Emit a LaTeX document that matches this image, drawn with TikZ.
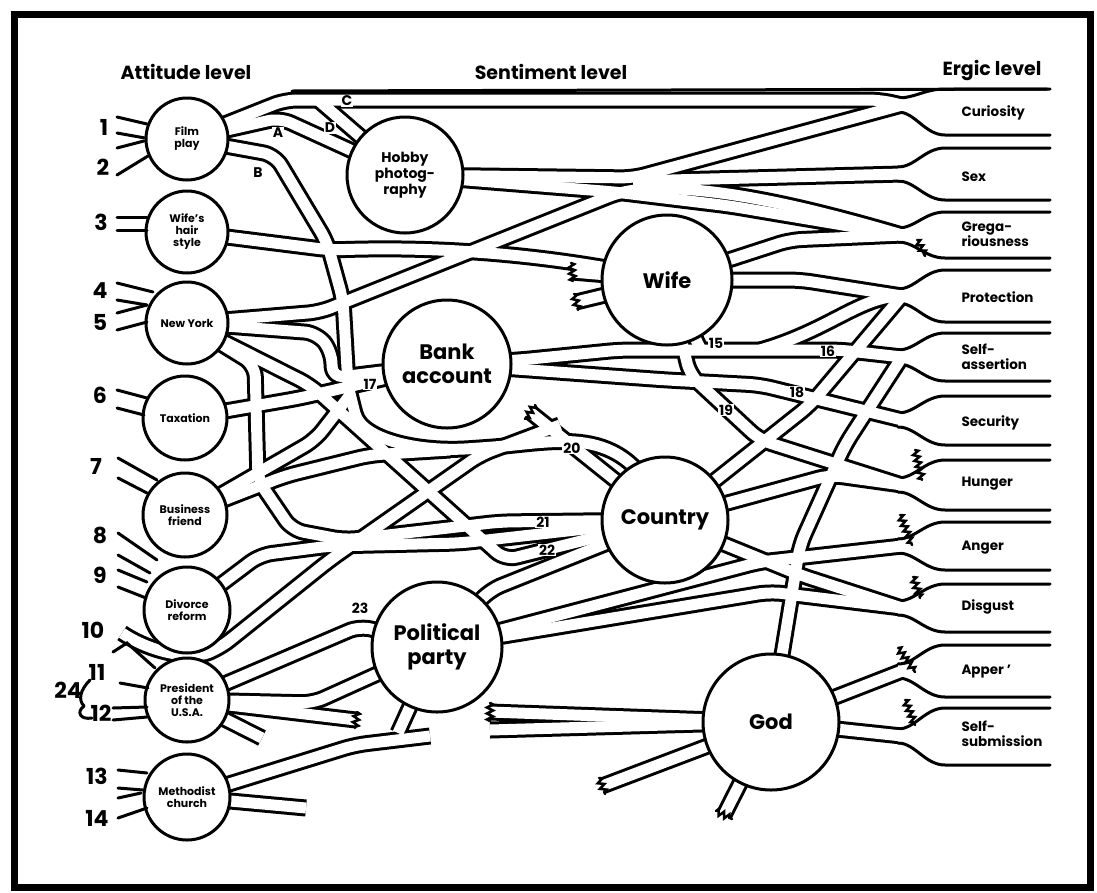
\documentclass[tikz,border=0pt]{standalone}
\usepackage{fontspec}
\setmainfont{Poppins}
\usetikzlibrary{decorations.pathmorphing}
\pgfdeclarelayer{bg}
\pgfsetlayers{bg,main}
\tikzset{
 chb/.style={line width=17pt, draw=black, line cap=butt, line join=round, rounded corners=12pt},
 chw/.style={line width=11pt, draw=white, line cap=butt, line join=round, rounded corners=12pt},
 edgeline/.style={line width=3pt, line cap=round},
 stub/.style={line width=3pt, line cap=round},
 circ/.style={circle, draw, line width=3pt, fill=white, inner sep=0pt, align=center, font=\bfseries},
 jag/.style={line width=2.5pt, line cap=round, decorate, decoration={zigzag, segment length=6pt, amplitude=3pt}},
 tag/.style={fill=white, inner sep=1pt, font=\bfseries\fontsize{14}{14}\selectfont},
 num/.style={font=\bfseries\fontsize{22}{22}\selectfont},
 drive/.style={font=\bfseries\fontsize{13.5}{15}\selectfont, align=left, anchor=west},
 head/.style={font=\bfseries\fontsize{19}{20}\selectfont},
 sm/.style={font=\bfseries\fontsize{11}{12}\selectfont},
 bigt/.style={font=\bfseries\fontsize{21}{24}\selectfont},
}
\newcommand\funnel[3]{%
 \fill[white] (1050,#1) -- (945,#1) .. controls (925,#1) and (915,#3-7) .. (898,#3-7) -- (898,#3+7) .. controls (915,#3+7) and (925,#2) .. (945,#2) -- (1050,#2) -- cycle;
 \draw[edgeline] (1050,#1) -- (945,#1) .. controls (925,#1) and (915,#3-7) .. (898,#3-7);
 \draw[edgeline] (1050,#2) -- (945,#2) .. controls (925,#2) and (915,#3+7) .. (898,#3+7);
}
\newcommand\allch{%
% film play
\draw[ch] (fp.center) -- (285,100) -- (880,100) -- (cur);
\draw[ch] (fp.center) -- (280,118) -- (hb.center);
\draw[ch] (318,100) -- (hb.center);
\draw[ch] (fp.center) -- (275,155) -- (327,242) -- (343,300) -- (348,385);
% hair style
\draw[ch] (wh.center) -- (330,250) .. controls (450,246) and (560,256) .. (wf.center);
% new york
\draw[ch] (ny.center) -- (320,312) -- (620,192) .. controls (700,182) and (800,205) .. (greg);
\draw[ch] (ny.center) -- (317,333) -- (332,352) -- (332,378) -- (ba.center);
\draw[ch] (ny.center) -- (310,385) -- (505,560) -- (co.center);
\draw[ch] (ny.center) -- (255,365) -- (258,480) -- (292,530) -- (345,540) -- (500,522) -- (co.center);
% hobby
\draw[ch] (hb.center) -- (633,178) -- (cur);
\draw[ch] (hb.center) -- (615,192) -- (730,206) -- (greg);
\draw[ch] (633,181) -- (sex);
% wife
\draw[ch] (wf.center) -- (790,240) -- (greg);
\draw[ch] (wf.center) -- (800,280) -- (prot);
\draw[ch] (wf.center) -- (700,348);
\draw[ch] (760,350) .. controls (830,330) and (860,296) .. (prot);
\draw[ch] (wf.center) -- (690,375) -- (760,440) -- (hung);
\draw[ch] (wf.center) -- (572,272);
\draw[ch] (wf.center) -- (576,302);
% bank
\draw[ch] (ba.center) -- (520,360) -- (620,350) -- (840,350) -- (sass);
\draw[ch] (ba.center) -- (667,380) -- (760,385) -- (secu);
\draw[ch] (tx.center) -- (300,398) -- (ba.center);
\draw[ch] (348,385) -- (352,402) .. controls (362,440) and (420,452) .. (480,448) .. controls (560,442) and (630,420) .. (co.center);
\draw[ch] (530,412) -- (co.center);
% business friend
\draw[ch] (bf.center) -- (285,476) -- (370,455) -- (450,450);
\draw[ch] (bf.center) -- (315,440) -- (350,395);
% divorce reform and 10
\draw[ch] (dr.center) -- (260,555) -- (330,546) -- (460,543) -- (co.center);
\draw[ch] (122,633) .. controls (150,652) and (190,660) .. (220,648) -- (330,560) -- (480,455) -- (560,425);
% president
\draw[ch] (pr.center) -- (360,626) -- (pp.center);
\draw[ch] (pr.center) -- (313,703) -- (pp.center);
\draw[ch] (pr.center) -- (356,720);
\draw[ch] (pr.center) -- (262,738);
% methodist
\draw[ch] (mc.center) -- (355,745) -- (430,736);
\draw[ch] (mc.center) -- (306,808);
% political party
\draw[ch] (pp.center) -- (398,733);
\draw[ch] (pp.center) -- (490,590) -- (co.center);
\draw[ch] (pp.center) -- (760,562) -- (ang);
\draw[ch] (pp.center) -- (770,592) -- (disg);
% country
\draw[ch] (co.center) -- (830,475) -- (hung);
\draw[ch] (co.center) -- (800,575) -- (disg);
\draw[ch] (co.center) -- (810,405) -- (prot);
% god
\draw[ch] (gd.center) -- (800,545) -- (845,445) -- (sass);
\draw[ch] (gd.center) -- (app);
\draw[ch] (gd.center) -- (ssub);
\draw[ch] (gd.center) -- (490,712);
\draw[ch] (gd.center) -- (490,730);
\draw[ch] (gd.center) -- (602,786);
\draw[ch] (gd.center) -- (724,815);
}
\begin{document}
\begin{tikzpicture}[x=1pt,y=-1pt]
\useasboundingbox (0,0) rectangle (1097,892);
\draw[line width=7pt] (14,14) rectangle (1090,887);
% headers
\node[head] (h1) at (186,72) {Attitude level};
\node[head] (h2) at (551,72) {Sentiment level};
\node[head] (h3) at (992,70) {Ergic level};
% drive tips
\coordinate (cur) at (902,105);
\coordinate (sex) at (902,174);
\coordinate (greg) at (902,235);
\coordinate (prot) at (902,296);
\coordinate (sass) at (902,357);
\coordinate (secu) at (902,420);
\coordinate (hung) at (902,485);
\coordinate (ang) at (902,546);
\coordinate (disg) at (902,608);
\coordinate (app) at (902,671);
\coordinate (ssub) at (902,736);
% circles
\node[circ, minimum size=82pt, sm] (fp) at (187,139) {Film\\play};
\node[circ, minimum size=82pt, sm] (wh) at (187,232) {Wife's\\hair\\style};
\node[circ, minimum size=82pt, sm] (ny) at (187,323) {New York};
\node[circ, minimum size=84pt, sm] (tx) at (185,418) {Taxation};
\node[circ, minimum size=84pt, sm] (bf) at (185,515) {Business\\friend};
\node[circ, minimum size=86pt, sm] (dr) at (187,610) {Divorce\\reform};
\node[circ, minimum size=84pt, sm] (pr) at (187,700) {President\\of the\\U.S.A.};
\node[circ, minimum size=86pt, sm] (mc) at (187,797) {Methodist\\church};
\node[circ, minimum size=116pt, font=\bfseries\fontsize{14}{16}\selectfont] (hb) at (405,175) {Hobby\\photog-\\raphy};
\node[circ, minimum size=130pt, bigt] (wf) at (667,280) {Wife};
\node[circ, minimum size=128pt, bigt] (ba) at (447,364) {Bank\\account};
\node[circ, minimum size=126pt, bigt] (co) at (665,520) {Country};
\node[circ, minimum size=130pt, bigt] (pp) at (437,647) {Political\\party};
\node[circ, minimum size=136pt, bigt] (gd) at (771,722) {God};
% channels
\begin{pgfonlayer}{bg}
\begin{scope}[ch/.style={chb}] \allch \end{scope}
\funnel{89}{135}{105}
\funnel{148}{200}{174}
\funnel{212}{258}{235}
\funnel{270}{322}{296}
\funnel{333}{381}{357}
\funnel{396}{445}{420}
\funnel{460}{510}{485}
\funnel{522}{570}{546}
\funnel{584}{632}{608}
\funnel{645}{697}{671}
\funnel{708}{765}{736}
\begin{scope}[ch/.style={chw}] \allch \end{scope}
\end{pgfonlayer}
\draw[edgeline] (292,91) -- (1047,89);
% torn ends
\draw[jag] (571,263) -- (573,281);
\draw[jag] (574,294) -- (578,310);
\draw[jag] (357,712) -- (355,728);
\draw[jag] (490,703) -- (490,721);
\draw[jag] (599,778) -- (605,794);
\draw[jag] (716,811) -- (732,819);
\draw[jag] (535,405) -- (525,419);
\draw[jag] (915,450) -- (922,480);
\draw[jag] (900,515) -- (912,545);
\draw[jag] (913,577) -- (920,598);
\draw[jag] (898,648) -- (915,672);
\draw[jag] (905,700) -- (915,725);
\draw[jag] (917,240) -- (925,256);
% channel labels
\node[tag] (la) at (278,133) {A};
\node[tag] (lb) at (258,173) {B};
\node[tag] (lc) at (347,101) {C};
\node[tag] (ld) at (330,128) {D};
\node[tag] (l15) at (716,343) {15};
\node[tag] (l16) at (828,351) {16};
\node[tag] (l17) at (370,384) {17};
\node[tag] (l18) at (797,392) {18};
\node[tag] (l19) at (726,410) {19};
\node[tag] (l20) at (572,448) {20};
\node[tag] (l21) at (543,522) {21};
\node[tag] (l22) at (547,550) {22};
\node[tag] (l23) at (360,608) {23};
% ergic labels
\node[drive] (e1) at (958,113) {Curiosity};
\node[drive] (e2) at (958,177) {Sex};
\node[drive] (e3) at (958,234) {Grega-\\riousness};
\node[drive] (e4) at (958,297) {Protection};
\node[drive] (e5) at (958,357) {Self-\\assertion};
\node[drive] (e6) at (958,423) {Security};
\node[drive] (e7) at (958,484) {Hunger};
\node[drive] (e8) at (958,548) {Anger};
\node[drive] (e9) at (958,607) {Disgust};
\node[drive] (e10) at (958,672) {Apper '};
\node[drive] (e11) at (958,734) {Self-\\submission};
% attitude numbers
\node[num] (n1) at (104,127) {1};
\node[num] (n2) at (103,167) {2};
\node[num] (n3) at (101,222) {3};
\node[num] (n4) at (100,291) {4};
\node[num] (n5) at (100,322) {5};
\node[num] (n6) at (100,395) {6};
\node[num] (n7) at (96,466) {7};
\node[num] (n8) at (100,535) {8};
\node[num] (n9) at (100,575) {9};
\node[num] (n10) at (93,630) {10};
\node[num] (n11) at (97,672) {11};
\node[num] (n12) at (101,713) {12};
\node[num] (n24) at (68,690) {24};
\node[num] (n13) at (97,776) {13};
\node[num] (n14) at (97,818) {14};
% stubs
\draw[stub] (117,117) -- (147,124);
\draw[stub] (117,133) -- (145,138);
\draw[stub] (117,148) -- (144,141);
\draw[stub] (117,175) -- (148,156);
\draw[stub] (117,217) -- (147,217);
\draw[stub] (117,230) -- (147,230);
\draw[stub] (117,283) -- (153,292);
\draw[stub] (117,300) -- (147,305);
\draw[stub] (117,313) -- (147,305);
\draw[stub] (117,330) -- (147,322);
\draw[stub] (117,390) -- (147,398);
\draw[stub] (117,408) -- (144,415);
\draw[stub] (118,458) -- (157,480);
\draw[stub] (118,478) -- (147,493);
\draw[stub] (118,533) -- (157,560);
\draw[stub] (118,555) -- (150,573);
\draw[stub] (118,570) -- (147,582);
\draw[stub] (118,587) -- (146,598);
\draw[stub] (113,652) -- (127,643) -- (155,668);
\draw[stub] (120,683) -- (148,688);
\draw[stub] (113,708) -- (147,707);
\draw[stub] (113,720) -- (147,717);
\draw[stub] (118,770) -- (147,773);
\draw[stub] (118,788) -- (143,790);
\draw[stub] (118,798) -- (141,793);
\draw[stub] (118,818) -- (147,808);
\draw[stub] (90,680) .. controls (80,690) and (78,700) .. (84,706);
\draw[stub] (84,706) .. controls (76,712) and (80,720) .. (92,718);
\end{tikzpicture}
\end{document}
